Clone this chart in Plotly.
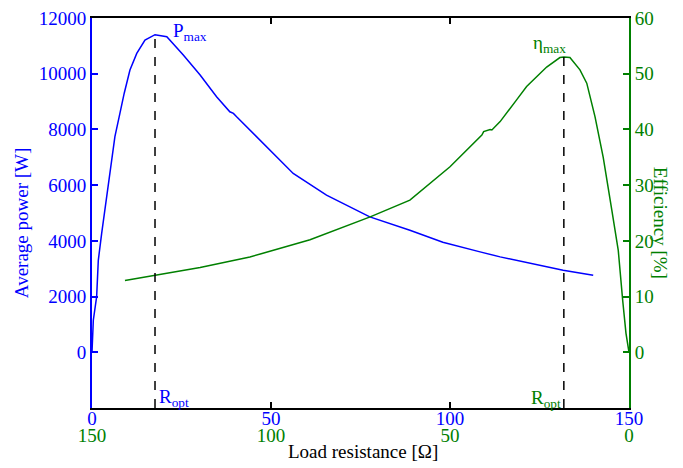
import plotly.graph_objects as go

# Average power vs load resistance (bottom blue axis, 0 -> 150 ohm)
power_r = [0, 0.37, 1.3, 1.76, 2.7, 3.8, 5.0, 6.4, 7.6, 9.0, 10.6, 12.5, 14.8, 17.6,
           20.9, 25.5, 30.2, 34.8, 38.5, 39.5, 40.4, 44.1, 47.0, 52.0, 56.2, 65.5,
           77.6, 88.8, 98.0, 108.4, 114.0, 131.6, 140.0]
power_w = [0, 1150, 2000, 3300, 4270, 5350, 6540, 7740, 8460, 9300, 10130, 10730, 11210, 11400,
           11330, 10670, 9953, 9173, 8634, 8576, 8454, 7977, 7580, 6934, 6420, 5641,
           4862, 4383, 3950, 3605, 3425, 2946, 2767]

# Efficiency vs load resistance (bottom green axis, 150 -> 0 ohm)
eff_r = [140.8, 132.4, 119.8, 105.9, 91.9, 89.1, 72.3, 61.2, 50.0, 48.1, 43.5, 41.1, 40.6,
         38.8, 38.3, 36.0, 31.4, 28.6, 23.0, 19.3, 18.2, 16.5, 13.7, 11.8, 9.5, 7.2,
         4.8, 3.0, 1.76, 0.84, 0.0]
eff_pct = [12.9, 13.8, 15.2, 17.1, 19.6, 20.2, 24.3, 27.3, 33.3, 34.5, 37.5, 39.0, 39.6,
           40.0, 39.9, 41.4, 45.3, 47.7, 51.2, 52.9, 53.0, 52.9, 50.7, 48.3, 42.3, 35.0,
           25.5, 18.3, 9.3, 3.4, 0.0]

x_ticks = [0, 50, 100, 150]
p_ticks = [0, 2000, 4000, 6000, 8000, 10000, 12000]
e_ticks = [0, 10, 20, 30, 40, 50, 60]

BLUE = "#0000FF"
GREEN = "#008000"
FONT = "'Liberation Serif', 'Times New Roman', Times, serif"

# layout geometry: figure drawn at an 8 px page offset; paper spans fig y 10..430
Y_DOM0 = 30 / 420      # plot bottom 30 px above paper bottom
X2_POS = 16 / 420      # green tick-label row

fig = go.Figure()
fig.add_trace(go.Scatter(x=power_r, y=power_w, mode="lines",
                         line=dict(color=BLUE, width=1.5), xaxis="x", yaxis="y"))
fig.add_trace(go.Scatter(x=eff_r, y=eff_pct, mode="lines",
                         line=dict(color=GREEN, width=1.5), xaxis="x2", yaxis="y2"))

# peak markers (dashed)
ip = power_w.index(max(power_w))
ie = eff_pct.index(max(eff_pct))
fig.add_shape(type="line", xref="x", yref="y", x0=power_r[ip], x1=power_r[ip],
              y0=-2000, y1=power_w[ip], line=dict(color="black", width=1.5, dash="dash"))
fig.add_shape(type="line", xref="x2", yref="y2", x0=eff_r[ie], x1=eff_r[ie],
              y0=-10, y1=eff_pct[ie], line=dict(color="black", width=1.5, dash="dash"))

ann = [
    dict(text="P<sub>max</sub>", xref="x", yref="y", x=power_r[ip] + 4.5, y=11500,
         xanchor="left", yanchor="middle", font=dict(color=BLUE, size=19)),
    dict(text="R<sub>opt</sub>", xref="x", yref="y", x=power_r[ip] + 0.5, y=-1650,
         xanchor="left", yanchor="middle", font=dict(color=BLUE, size=19)),
    dict(text="η<sub>max</sub>", xref="x2", yref="y2", x=eff_r[ie] + 4, y=55.3,
         xanchor="center", yanchor="middle", font=dict(color=GREEN, size=19)),
    dict(text="R<sub>opt</sub>", xref="x2", yref="y2", x=eff_r[ie] + 0.3, y=-8.3,
         xanchor="right", yanchor="middle", font=dict(color=GREEN, size=19)),
    dict(text="Average power [W]", xref="paper", yref="paper", x=-0.13, y=0.512,
         textangle=-90, xanchor="center", yanchor="middle", font=dict(color=BLUE, size=19)),
    dict(text="Efficiency [%]", xref="paper", yref="paper", x=1.058, y=0.512,
         textangle=90, xanchor="center", yanchor="middle", font=dict(color=GREEN, size=19)),
    dict(text="Load resistance [Ω]", xref="paper", yref="paper", x=0.505, y=-0.033,
         xanchor="center", yanchor="middle", font=dict(color="black", size=19)),
]
for a in ann:
    a["showarrow"] = False
    fig.add_annotation(**a)

fig.update_layout(
    width=675, height=460,
    margin=dict(l=84, r=54, t=10, b=30),
    paper_bgcolor="white", plot_bgcolor="white",
    showlegend=False,
    font=dict(family=FONT, size=19),
    xaxis=dict(range=[0, 150], tickvals=x_ticks, ticks="inside", ticklen=6,
               tickcolor="black", tickwidth=1.5, showline=True, linecolor="black",
               linewidth=2, mirror="ticks", showgrid=False, zeroline=False,
               automargin=False, anchor="y", ticklabelstandoff=-8,
               ticklabeloverflow="allow",
               tickfont=dict(color=BLUE, size=19)),
    xaxis2=dict(range=[150, 0], overlaying="x", side="bottom", anchor="free",
                position=X2_POS, tickvals=x_ticks, ticks="", showline=False,
                showgrid=False, zeroline=False, automargin=False,
                ticklabeloverflow="allow",
                tickfont=dict(color=GREEN, size=19)),
    yaxis=dict(domain=[Y_DOM0, 1], range=[-2000, 12000], tickvals=p_ticks,
               tickformat="d", ticks="inside", ticklen=6,
               tickcolor=BLUE, tickwidth=1.5, showline=True, linecolor=BLUE,
               linewidth=2, showgrid=False, zeroline=False, automargin=False,
               ticklabeloverflow="allow",
               tickfont=dict(color=BLUE, size=19)),
    yaxis2=dict(domain=[Y_DOM0, 1], range=[-10, 60], tickvals=e_ticks, ticks="inside",
                ticklen=6, tickcolor=GREEN, tickwidth=1.5, showline=True,
                linecolor=GREEN, linewidth=2, showgrid=False, zeroline=False,
                overlaying="y", side="right", anchor="x", automargin=False,
                ticklabeloverflow="allow",
                tickfont=dict(color=GREEN, size=19)),
)

fig.write_html("out.html")
